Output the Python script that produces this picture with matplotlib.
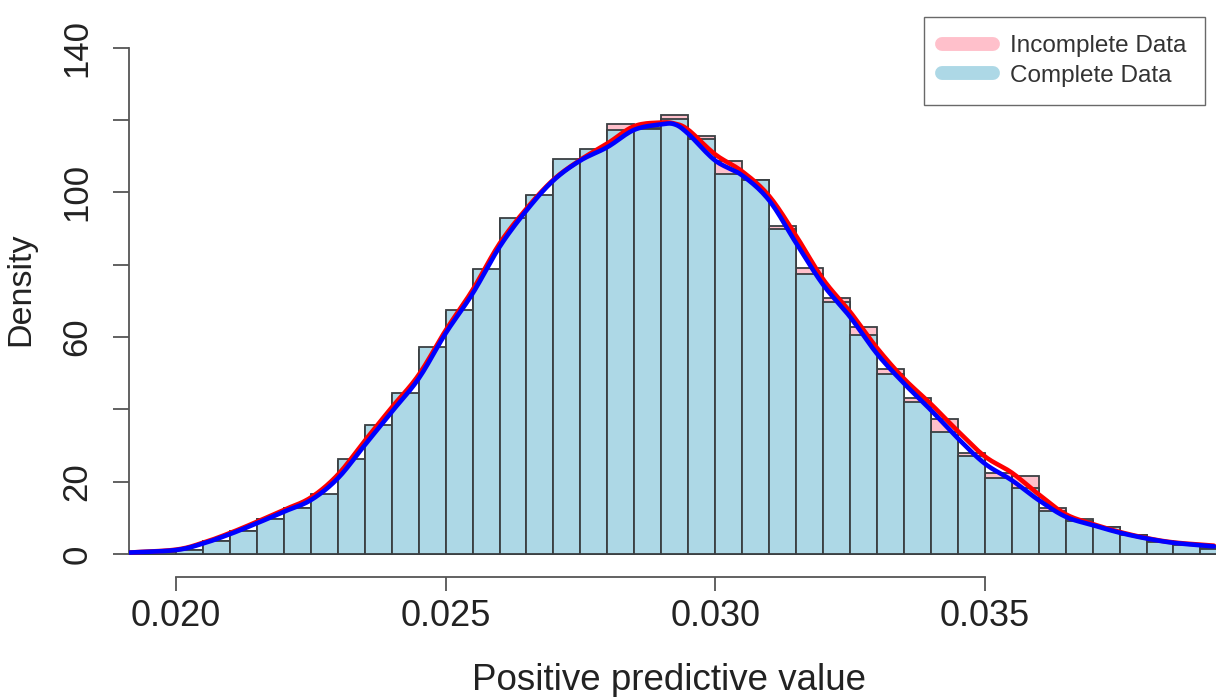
import numpy as np
import matplotlib
matplotlib.use("Agg")
import matplotlib.pyplot as plt
from matplotlib.lines import Line2D

plt.rcParams['font.family'] = ['Liberation Sans', 'DejaVu Sans']

# ---------------- data ----------------
bin_start = 0.0190
bin_width = 0.0005

complete_heights = [0.2, 0.6, 1.1, 3.6, 6.4, 9.8, 12.8, 16.6, 26.3, 35.6,
                    44.4, 57.3, 67.6, 78.9, 93.0, 99.4, 109.1, 111.9, 117.3, 117.6,
                    120.2, 114.8, 105.2, 103.5, 89.8, 77.5, 69.7, 60.5, 49.7, 42.1,
                    33.8, 27.1, 21.1, 18.3, 11.9, 9.2, 7.4, 5.2, 3.4, 2.5, 1.5]

incomplete_heights = [0.2, 0.6, 1.2, 3.5, 6.3, 9.6, 12.6, 16.2, 25.8, 35.0,
                      44.0, 56.5, 67.0, 78.5, 92.5, 99.0, 108.5, 111.5, 119.0, 117.8,
                      121.3, 115.6, 108.6, 103.5, 90.6, 79.2, 70.9, 62.8, 51.2, 43.2,
                      37.2, 28.0, 22.3, 21.6, 12.6, 9.6, 7.5, 5.3, 3.5, 2.6, 1.6]

curve_x = [0.01914, 0.0200, 0.0205, 0.0210, 0.0215, 0.0220, 0.0225, 0.0230, 0.0235, 0.0240,
           0.0245, 0.0250, 0.0255, 0.0260, 0.0265, 0.0270, 0.0275, 0.0280, 0.0285, 0.0290,
           0.02925, 0.0295, 0.0300, 0.0305, 0.0310, 0.0315, 0.0320, 0.0325, 0.0330, 0.0335,
           0.0340, 0.0345, 0.0350, 0.0355, 0.0360, 0.0365, 0.0370, 0.0375, 0.0380, 0.0385,
           0.03925]

complete_density = [0.4, 1.1, 2.9, 5.5, 8.5, 11.7, 14.9, 20.9, 30.1, 39.3,
                     48.5, 61.0, 72.0, 84.9, 95.0, 103.3, 108.8, 112.5, 117.3, 118.8,
                     118.8, 116.2, 108.8, 104.7, 97.8, 86.0, 74.5, 65.6, 55.4, 47.2,
                     39.8, 32.0, 25.0, 20.4, 14.9, 10.3, 8.0, 5.9, 4.3, 3.1,
                     2.1]

incomplete_density = [0.4, 1.2, 3.1, 5.8, 8.9, 12.2, 15.6, 21.9, 31.3, 40.5,
                       49.5, 61.8, 73.0, 85.8, 95.5, 103.5, 109.0, 113.5, 118.3, 119.3,
                       119.0, 117.3, 110.5, 105.8, 99.0, 88.0, 76.0, 67.0, 57.0, 48.5,
                       41.5, 34.0, 27.0, 22.5, 16.5, 11.0, 8.3, 6.1, 4.4, 3.2,
                       2.3]

x_ticks = [0.020, 0.025, 0.030, 0.035]
x_tick_labels = ["0.020", "0.025", "0.030", "0.035"]
y_ticks = [0, 20, 40, 60, 80, 100, 120, 140]
y_tick_labels = ["0", "20", "", "60", "", "100", "", "140"]
legend_labels = ["Incomplete Data", "Complete Data"]


def smooth(xs, ys, n=12):
    """Catmull-Rom rendering through the read points."""
    xs = np.asarray(xs, float)
    ys = np.asarray(ys, float)
    px = np.concatenate([[2 * xs[0] - xs[1]], xs, [2 * xs[-1] - xs[-2]]])
    py = np.concatenate([[2 * ys[0] - ys[1]], ys, [2 * ys[-1] - ys[-2]]])
    ox, oy = [], []
    t = np.linspace(0, 1, n, endpoint=False)
    for i in range(1, len(px) - 2):
        for arr, out in ((px, ox), (py, oy)):
            p0, p1, p2, p3 = arr[i - 1], arr[i], arr[i + 1], arr[i + 2]
            out.extend(0.5 * ((2 * p1) + (-p0 + p2) * t
                              + (2 * p0 - 5 * p1 + 4 * p2 - p3) * t ** 2
                              + (-p0 + 3 * p1 - 3 * p2 + p3) * t ** 3))
    ox.append(xs[-1])
    oy.append(ys[-1])
    return np.array(ox), np.array(oy)


# ---------------- figure ----------------
W, H = 1216, 697
fig = plt.figure(figsize=(W / 100, H / 100), dpi=100)
ax = fig.add_axes([129 / W, 1 - 577 / H, (W - 129) / W, (577 - 26) / H])

lefts = bin_start + bin_width * np.arange(len(complete_heights))
edge = '#3a3f42'
ax.bar(lefts, incomplete_heights, width=bin_width, align='edge',
       color='pink', edgecolor=edge, linewidth=1.3, zorder=2)
ax.bar(lefts, complete_heights, width=bin_width, align='edge',
       color='lightblue', edgecolor=edge, linewidth=1.3, zorder=3)

sx, sy = smooth(curve_x, incomplete_density)
ax.plot(sx, sy, color='red', lw=3.3, solid_capstyle='round', zorder=4)
sx, sy = smooth(curve_x, complete_density)
ax.plot(sx, sy, color='blue', lw=3.3, solid_capstyle='round', zorder=5)

ax.set_xlim(0.019128, 0.039289)
ax.set_ylim(-6.36, 146.0)

for s in ('top', 'right'):
    ax.spines[s].set_visible(False)
axis_col = '#555555'
ax.spines['left'].set_bounds(0, 140)
ax.spines['bottom'].set_bounds(0.020, 0.035)
for s in ('left', 'bottom'):
    ax.spines[s].set_color(axis_col)
    ax.spines[s].set_linewidth(1.3)

ax.set_xticks(x_ticks)
ax.set_xticklabels(x_tick_labels, fontsize=26, color='#222222')
ax.set_yticks(y_ticks)
ax.set_yticklabels(y_tick_labels, fontsize=25, color='#222222',
                   rotation=90, va='center')
ax.tick_params(axis='x', length=10, width=1.3, color=axis_col, pad=6)
ax.tick_params(axis='y', length=11.5, width=1.3, color=axis_col, pad=14)

fig.text(669 / W, 1 - 690 / H, "Positive predictive value", fontsize=26.5,
         ha='center', va='baseline', color='#222222')
fig.text(21 / W, 1 - 289 / H, "Density", fontsize=24.5, rotation=90,
         ha='center', va='center', color='#222222')

handles = [Line2D([0], [0], color='pink', lw=10, solid_capstyle='round'),
           Line2D([0], [0], color='lightblue', lw=10, solid_capstyle='round')]
leg = fig.legend(handles, legend_labels, loc='upper right',
                 bbox_to_anchor=(1205 / W, 1 - 17 / H), bbox_transform=fig.transFigure,
                 fontsize=17.5, frameon=True, fancybox=False, borderaxespad=0,
                 handlelength=2.1, handletextpad=0.7, labelspacing=0.3,
                 borderpad=0.75)
leg.get_frame().set_edgecolor('#444444')
leg.get_frame().set_linewidth(1.0)
for t in leg.get_texts():
    t.set_color('#333333')

fig.savefig("out.png", dpi=100)
